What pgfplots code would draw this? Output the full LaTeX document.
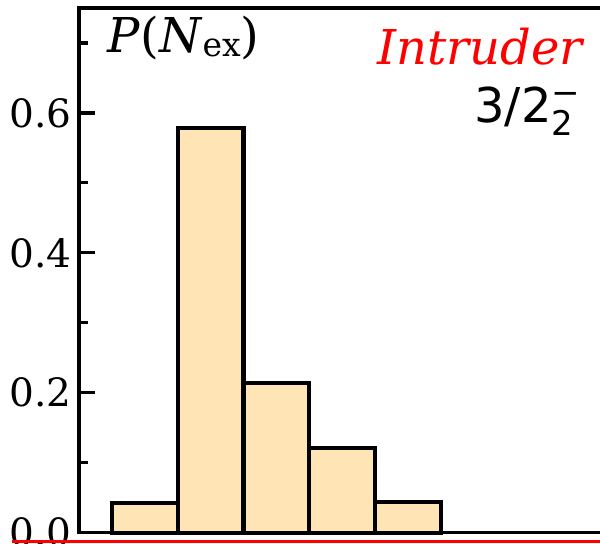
\documentclass[border=0pt]{standalone}
\usepackage{fontspec}
\setmainfont{DejaVu Serif}
\newfontfamily\dvsans{DejaVu Sans}
\usepackage{pgfplots}
\pgfplotsset{compat=1.18}
\definecolor{moccasin}{RGB}{255,228,181}
\begin{document}
\begin{tikzpicture}
\begin{axis}[
  scale only axis, width=263.3pt, height=262.35pt,
  xmin=-1, xmax=7, ymin=0, ymax=0.75,
  xtick=\empty,
  ytick={0,0.2,0.4,0.6}, minor ytick={0.1,0.3,0.5,0.7},
  ytick pos=left, tick align=inside,
  major tick length=8pt, minor tick length=4.75pt,
  tick style={black, line width=1.6pt},
  axis line style={line width=1.6pt},
  yticklabel style={font=\fontsize{19.5}{20}\selectfont, inner sep=0pt, xshift=-3.5pt,
    /pgf/number format/.cd, fixed, fixed zerofill, precision=1, assume math mode=true},
  clip=false,
]
\addplot[ybar interval, fill=moccasin, draw=black, line width=2.1pt]
  coordinates {(-0.5,0.043) (0.5,0.578) (1.5,0.214) (2.5,0.1206) (3.5,0.044) (4.5,0.044)};
\coordinate (LL) at (rel axis cs:0,0);
\node[anchor=base west, inner sep=0pt, font=\fontsize{24}{26}\selectfont]
  at (axis cs:-0.574,0.686) {\textit{P}(\textit{N}{\fontsize{16.5}{17}\selectfont\raisebox{-2pt}{ex}})};
\node[anchor=base east, inner sep=0pt, text=red, font=\itshape\fontsize{24}{26}\selectfont]
  at (axis cs:6.657,0.6696) {Intruder};
\node[anchor=base east, inner sep=0pt, font=\dvsans\fontsize{24}{26}\selectfont]
  at (axis cs:6.62,0.587) {3/2{\fontsize{17}{17}\selectfont\rlap{\raisebox{-6.5pt}{2}}\raisebox{8.8pt}{−}}};
\end{axis}
\draw[red, line width=1.5pt] ([xshift=-33.5pt,yshift=-4.65pt]LL) -- ([xshift=270pt,yshift=-4.65pt]LL);
\pgfresetboundingbox
\path[use as bounding box] ([xshift=-39.5pt,yshift=-5.65pt]LL) rectangle ([xshift=260.5pt,yshift=266.35pt]LL);
\end{tikzpicture}
\end{document}
